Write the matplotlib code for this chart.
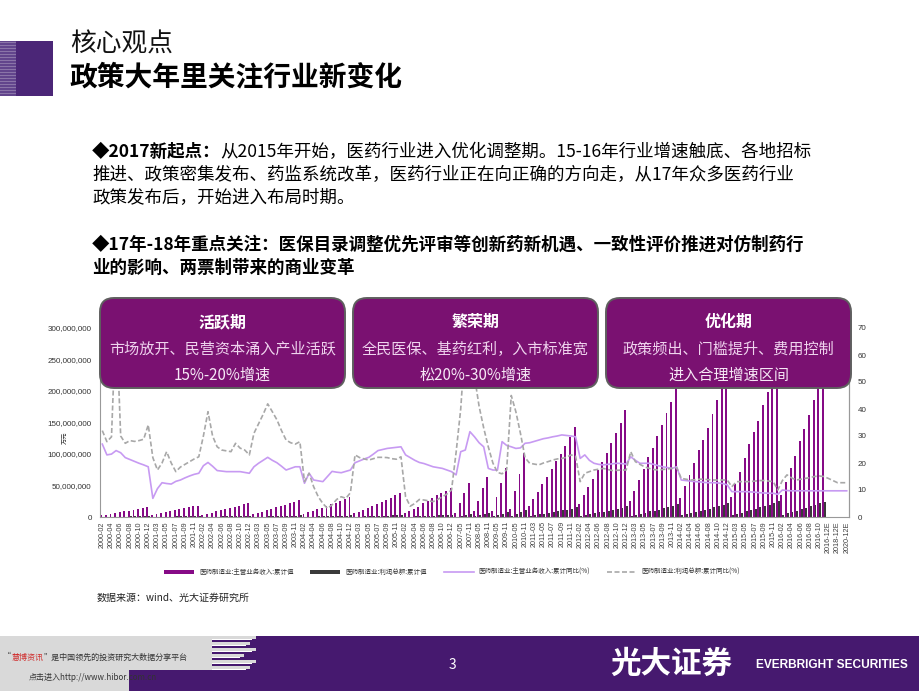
import numpy as np
import matplotlib
matplotlib.use("Agg")
import matplotlib.pyplot as plt
from matplotlib.patches import FancyBboxPatch, Rectangle
import matplotlib.ticker as mticker

CJK = ['Noto Sans CJK SC', 'DejaVu Sans']
plt.rcParams['font.family'] = CJK
plt.rcParams['axes.unicode_minus'] = False

# ---------------- categories ----------------
full_months = ['02', '03', '04', '05', '06', '07', '08', '09', '10', '11', '12']
quarter_months = ['02', '05', '08', '11']
years_full_a = [2000, 2001, 2002, 2003, 2004, 2005, 2006]
years_quarter = [2007, 2008, 2009, 2010]
years_full_b = [2011, 2012, 2013, 2014, 2015]
months_2016 = ['02', '03', '04', '05', '06', '07', '08', '09', '10', '11']
forecast_labels = ['2016-12E', '2017-12E', '2018-12E', '2019-12E', '2020-12E']

categories = ([f"{y}-{m}" for y in years_full_a for m in full_months]
              + [f"{y}-{m}" for y in years_quarter for m in quarter_months]
              + [f"{y}-{m}" for y in years_full_b for m in full_months]
              + [f"2016-{m}" for m in months_2016]
              + forecast_labels)

# ---------------- data (亿元, cumulative) ----------------
revenue_yi = (
    [250, 370, 500, 630, 770, 900, 1030, 1170, 1300, 1430, 1580]          # 2000
    + [290, 440, 590, 740, 900, 1050, 1200, 1360, 1510, 1670, 1800]       # 2001
    + [340, 520, 700, 880, 1060, 1240, 1420, 1610, 1800, 1990, 2180]      # 2002
    + [420, 640, 860, 1070, 1290, 1510, 1730, 1960, 2190, 2420, 2700]     # 2003
    + [480, 730, 980, 1230, 1480, 1730, 1990, 2250, 2520, 2790, 3130]     # 2004
    + [560, 870, 1170, 1480, 1800, 2110, 2420, 2750, 3080, 3420, 3880]    # 2005
    + [580, 880, 1300, 1650, 2150, 2600, 3050, 3450, 3850, 4200, 4650]    # 2006
    + [700, 2200, 3800, 5400]                                              # 2007
    + [900, 2600, 4550, 6400]                                              # 2008
    + [1000, 3120, 5340, 7830]                                             # 2009
    + [1320, 4180, 6830, 10100]                                            # 2010
    + [1750, 2800, 3910, 5190, 6300, 7620, 8830, 10000, 11320, 12650, 14340]   # 2011
    + [2060, 3450, 4700, 6000, 7500, 8800, 10200, 11800, 13300, 15000, 17000]  # 2012
    + [2600, 4200, 5900, 7600, 9500, 11000, 12800, 14600, 16500, 18300, 20500] # 2013
    + [3000, 4900, 6700, 8600, 10600, 12300, 14200, 16300, 18500, 20800, 23500] # 2014
    + [3200, 5200, 7200, 9300, 11600, 13500, 15300, 17800, 19800, 22000, 24800] # 2015
    + [3500, 5600, 7700, 9700, 12000, 14000, 16200, 18500, 20800, 23000]        # 2016
    + [None, None, None, None, None]
)

profit_yi = (
    [20, 30, 40, 50, 62, 73, 85, 96, 108, 120, 140]
    + [24, 37, 50, 63, 77, 90, 103, 117, 130, 145, 165]
    + [28, 44, 60, 76, 92, 108, 124, 141, 158, 175, 200]
    + [35, 55, 75, 94, 114, 134, 154, 175, 196, 218, 250]
    + [38, 58, 78, 98, 118, 138, 160, 182, 205, 228, 260]
    + [43, 67, 90, 115, 140, 165, 190, 216, 243, 270, 320]
    + [42, 64, 95, 120, 158, 190, 225, 255, 285, 320, 380]
    + [60, 190, 330, 480]
    + [80, 250, 440, 620]
    + [95, 300, 520, 790]
    + [140, 440, 720, 1070]
    + [180, 290, 400, 530, 650, 790, 920, 1050, 1190, 1330, 1510]
    + [190, 330, 450, 580, 730, 860, 1000, 1160, 1310, 1480, 1730]
    + [230, 380, 540, 700, 880, 1020, 1190, 1370, 1550, 1730, 2000]
    + [270, 450, 620, 800, 990, 1150, 1330, 1530, 1740, 1960, 2300]
    + [300, 500, 700, 910, 1140, 1330, 1510, 1760, 1960, 2180, 2600]
    + [340, 560, 780, 990, 1230, 1440, 1670, 1910, 2150, 2380]
    + [None, None, None, None, None]
)

revenue_yoy = (
    [27.0, 23.0, 23.3, 24.6, 23.8, 22.0, 21.3, 20.6, 19.9, 19.3, 18.6]
    + [6.9, 10.5, 12.7, 12.4, 12.2, 13.2, 13.7, 14.5, 15.2, 15.8, 16.2]
    + [19.0, 20.2, 18.8, 17.2, 17.0, 16.8, 16.8, 16.8, 16.8, 16.5, 16.2]
    + [18.6, 19.9, 21.0, 22.1, 21.0, 20.1, 18.8, 17.4, 18.0, 18.6, 18.6]
    + [12.5, 16.2, 13.7, 13.4, 13.1, 15.0, 16.9, 16.6, 16.4, 16.9, 17.4]
    + [20.1, 20.8, 21.5, 22.1, 23.3, 24.6, 25.0, 25.4, 25.6, 25.8, 26.0]
    + [23.0, 22.0, 21.0, 20.2, 19.8, 19.2, 18.6, 18.3, 18.0, 17.4, 16.8]
    + [15.6, 24.2, 24.8, 31.6]
    + [29.7, 27.5, 26.0, 18.0]
    + [17.4, 17.4, 27.9, 26.5]
    + [26.0, 25.4, 25.6, 27.3]
    + [27.5, 28.0, 28.5, 29.0, 29.3, 29.7, 30.0, 30.4, 30.2, 30.0, 29.7]
    + [21.7, 23.0, 21.0, 19.9, 19.5, 19.3, 19.5, 19.7, 19.9, 19.8, 19.6]
    + [22.3, 21.0, 19.9, 19.9, 19.9, 19.5, 19.0, 18.6, 18.3, 18.0, 18.6]
    + [13.7, 13.5, 13.3, 13.1, 13.0, 12.8, 12.7, 12.7, 12.6, 12.4, 11.9]
    + [9.4, 9.4, 9.4, 9.4, 9.3, 9.2, 9.0, 8.9, 8.8, 8.8, 8.4]
    + [10.0, 9.8, 9.7, 9.7, 9.7, 9.7, 9.7, 9.7, 9.7, 9.7]
    + [9.7, 9.7, 9.7, 9.7, 9.7]
)

profit_yoy = (
    [32.0, 27.9, 29.7, 75.0, 30.0, 27.3, 28.3, 28.0, 28.3, 28.8, 34.1]
    + [22.0, 17.4, 20.0, 24.2, 20.0, 16.8, 18.5, 19.5, 20.5, 21.5, 22.3]
    + [30.0, 39.0, 30.0, 26.0, 24.8, 24.5, 24.2, 27.3, 25.5, 24.8, 23.0]
    + [31.0, 34.5, 38.0, 41.9, 39.0, 36.0, 32.0, 28.5, 27.5, 27.0, 27.9]
    + [13.1, 16.2, 11.2, 7.5, 5.0, 3.2, 4.5, 6.5, 7.5, 6.9, 9.0]
    + [23.0, 22.0, 21.5, 21.1, 21.6, 22.1, 22.1, 22.0, 21.6, 21.4, 22.3]
    + [7.5, 4.0, 5.0, 6.5, 6.3, 6.0, 5.7, 6.5, 7.5, 8.5, 10.0]
    + [24.0, 40.0, 65.0, 70.0]
    + [52.0, 41.0, 33.0, 26.0]
    + [20.0, 16.5, 16.0, 17.5]
    + [45.0, 39.0, 31.0, 22.0]
    + [19.9, 19.6, 19.3, 20.0, 20.5, 21.1, 21.5, 21.7, 22.1, 23.0, 22.5]
    + [13.1, 16.2, 16.8, 17.4, 17.7, 18.0, 17.6, 17.2, 17.3, 17.4, 17.4]
    + [24.2, 20.5, 19.5, 18.6, 18.0, 17.6, 17.4, 17.6, 17.8, 18.0, 18.3]
    + [14.3, 14.0, 13.7, 13.8, 14.0, 14.0, 13.8, 13.7, 13.7, 13.7, 13.7]
    + [11.2, 13.1, 13.1, 13.1, 13.1, 13.3, 13.5, 13.5, 13.3, 13.1, 10.0]
    + [13.5, 15.6, 14.5, 13.7, 14.0, 14.3, 14.6, 15.0, 15.2, 15.0]
    + [14.3, 13.5, 12.7, 12.7, 12.7]
)

series_names = ['医药制造业:主营业务收入:累计值', '医药制造业:利润总额:累计值',
                '医药制造业:主营业务收入:累计同比(%)', '医药制造业:利润总额:累计同比(%)']

box_titles = ['活跃期', '繁荣期', '优化期']
box_line1 = ['市场放开、民营资本涌入产业活跃', '全民医保、基药红利，入市标准宽', '政策频出、门槛提升、费用控制']
box_line2 = ['15%-20%增速', '松20%-30%增速', '进入合理增速区间']

# ---------------- figure ----------------
W, H = 920, 691
fig = plt.figure(figsize=(W / 100, H / 100), dpi=100)
fig.patch.set_facecolor('white')


def fx(px):
    return px / W


def fy(py):
    return 1 - py / H


ax = fig.add_axes([fx(100), fy(517), (849 - 100) / W, (517 - 328) / H], zorder=1)
ax.patch.set_alpha(0)
x = np.arange(len(categories))
rev = np.array([np.nan if v is None else v for v in revenue_yi], dtype=float) * 1e4
pro = np.array([np.nan if v is None else v for v in profit_yi], dtype=float) * 1e4
bw = 0.42
b1 = ax.bar(x - 0.21, np.nan_to_num(rev), width=bw, color='#860A86', linewidth=0, label=series_names[0])
b2 = ax.bar(x + 0.21, np.nan_to_num(pro), width=bw, color='#3A3A3A', linewidth=0, label=series_names[1])
ax.set_xlim(-0.5, len(categories) - 0.5)
ax.set_ylim(0, 300000000)
ax.yaxis.set_major_locator(mticker.MultipleLocator(50000000))
ax.yaxis.set_major_formatter(mticker.FuncFormatter(lambda v, p: f"{int(round(v)):,}"))
for lab in ax.get_yticklabels():
    lab.set_family(['Liberation Sans', 'DejaVu Sans'])
ax.tick_params(axis='y', labelsize=5.8, length=0, pad=6, colors='#333333')
ax.set_xticks(x[::2])
ax.set_xticklabels(categories[::2], rotation=90, fontsize=5.2, color='#404040',
                   family=['Liberation Sans', 'DejaVu Sans'])
ax.tick_params(axis='x', length=0, pad=3)
ax.spines['top'].set_visible(False)
for s in ['left', 'right', 'bottom']:
    ax.spines[s].set_color('#999999')
    ax.spines[s].set_linewidth(0.8)

ax2 = ax.twinx()
ax2.set_zorder(2)
ax2.patch.set_alpha(0)
l1, = ax2.plot(x, revenue_yoy, color='#C79AF2', linewidth=1.2, label=series_names[2])
l2, = ax2.plot(x, profit_yoy, color='#A8A8A8', linewidth=1.2, linestyle=(0, (3, 1.5)), label=series_names[3])
ax2.set_ylim(0, 70)
ax2.yaxis.set_major_locator(mticker.MultipleLocator(10))
ax2.tick_params(axis='y', labelsize=5.8, length=0, pad=6, colors='#333333')
for lab in ax2.get_yticklabels():
    lab.set_family(['Liberation Sans', 'DejaVu Sans'])
for s in ['top', 'left', 'bottom']:
    ax2.spines[s].set_visible(False)
ax2.spines['right'].set_color('#999999')
ax2.spines['right'].set_linewidth(0.8)

leg = ax.legend([b1, b2, l1, l2], series_names, loc='center', bbox_to_anchor=(0.47, (517 - 572) / 189),
                ncol=4, frameon=False, fontsize=4.7, handlelength=4.6, handleheight=0.5,
                columnspacing=2.6, handletextpad=0.7)
for t in leg.get_texts():
    t.set_color('#333333')

# ---------------- overlay for decorations ----------------
ov = fig.add_axes([0, 0, 1, 1], zorder=5)
ov.set_xlim(0, W)
ov.set_ylim(H, 0)
ov.axis('off')
renderer = fig.canvas.get_renderer()

# top-left block
ov.add_patch(Rectangle((0, 41), 53, 55, facecolor='#4B2677', edgecolor='none'))
ov.add_patch(Rectangle((0, 41), 16, 55, facecolor='#62458C', edgecolor='none'))
for yy in range(42, 96, 3):
    ov.add_patch(Rectangle((0, yy), 16, 1.0, facecolor='#8A74A8', edgecolor='none'))

ov.text(70, 45, '核心观点', fontsize=18.5, color='#111111', va='center', ha='left')
ov.text(69, 77, '政策大年里关注行业新变化', fontsize=20, fontweight='bold', color='#000000', va='center', ha='left')

# paragraph text
fs = 12.6


def mixed_line(xp, yp, bold_part, normal_part):
    t = ov.text(xp, yp, bold_part, fontsize=fs, fontweight='bold', va='center', ha='left', color='#000000')
    bb = t.get_window_extent(renderer=renderer)
    if normal_part:
        ov.text(bb.x1, yp, normal_part, fontsize=fs, va='center', ha='left', color='#000000')


mixed_line(92, 152, '◆2017新起点：', '从2015年开始，医药行业进入优化调整期。15-16年行业增速触底、各地招标')
ov.text(92, 175, '推进、政策密集发布、药监系统改革，医药行业正在向正确的方向走，从17年众多医药行业',
        fontsize=fs, va='center', ha='left', color='#000000')
ov.text(92, 198, '政策发布后，开始进入布局时期。', fontsize=fs, va='center', ha='left', color='#000000')
ov.text(92, 245, '◆17年-18年重点关注：医保目录调整优先评审等创新药新机遇、一致性评价推进对仿制药行',
        fontsize=fs, fontweight='bold', va='center', ha='left', color='#000000')
ov.text(92, 268, '业的影响、两票制带来的商业变革', fontsize=fs, fontweight='bold', va='center', ha='left',
        color='#000000')

# phase boxes
box_x = [100, 353, 606]
box_w = 245
for bx, t0, t1, t2 in zip(box_x, box_titles, box_line1, box_line2):
    ov.add_patch(FancyBboxPatch((bx, 298), box_w, 90, boxstyle='round,pad=0,rounding_size=14',
                                facecolor='#7A1171', edgecolor='#5F5F5F', linewidth=1.4))
    cx = bx + box_w / 2
    ov.text(cx, 322, t0, fontsize=11.5, fontweight='bold', color='white', ha='center', va='center')
    ov.text(cx, 349, t1, fontsize=10.9, color='#EFD3EE', ha='center', va='center')
    ov.text(cx, 375, t2, fontsize=10.9, color='#F6E8F6', ha='center', va='center')

# axis unit label
ov.text(66, 438, '万元', fontsize=4.5, color='#333333', rotation=90, ha='center', va='center')

# source
ov.text(97, 598, '数据来源：wind、光大证券研究所', fontsize=7.2, color='#222222', ha='left', va='center')

# footer
ov.add_patch(Rectangle((0, 636), W, 55, facecolor='#46196F', edgecolor='none'))
ov.add_patch(Rectangle((0, 636), 212, 34, facecolor='#D9D9D9', edgecolor='none'))
ov.add_patch(Rectangle((0, 670), 129, 21, facecolor='#D9D9D9', edgecolor='none'))
for yy, xe in [(636, 256), (642, 250), (648, 256), (654, 244), (660, 256), (666, 250)]:
    ov.add_patch(Rectangle((212, yy), xe - 212, 3.2, facecolor='#D9D9D9', edgecolor='none'))
    ov.add_patch(Rectangle((212, yy + 3.2), xe - 216, 1.0, facecolor='white', edgecolor='none'))

xcur = 3
for part, col in [('“', '#333333'), ('慧博资讯', '#D03030'), ('”是中国领先的投资研究大数据分享平台', '#333333')]:
    tt = ov.text(xcur, 657, part, fontsize=5.8, color=col, ha='left', va='center')
    xcur = tt.get_window_extent(renderer=renderer).x1 + 0.5
ov.text(29, 678, '点击进入http://www.hibor.com.cn', fontsize=5.8, color='#333333', ha='left', va='center')
ov.text(452, 665, '3', fontsize=10, color='white', ha='center', va='center')
ov.text(610, 664, '光大证券', fontsize=22, fontweight='bold', color='white', ha='left', va='center')
ov.text(756, 665, 'EVERBRIGHT SECURITIES', fontsize=8.6, fontweight='bold', color='white', ha='left',
        va='center', family=['Liberation Sans', 'DejaVu Sans'])

fig.savefig('out.png', dpi=100)
